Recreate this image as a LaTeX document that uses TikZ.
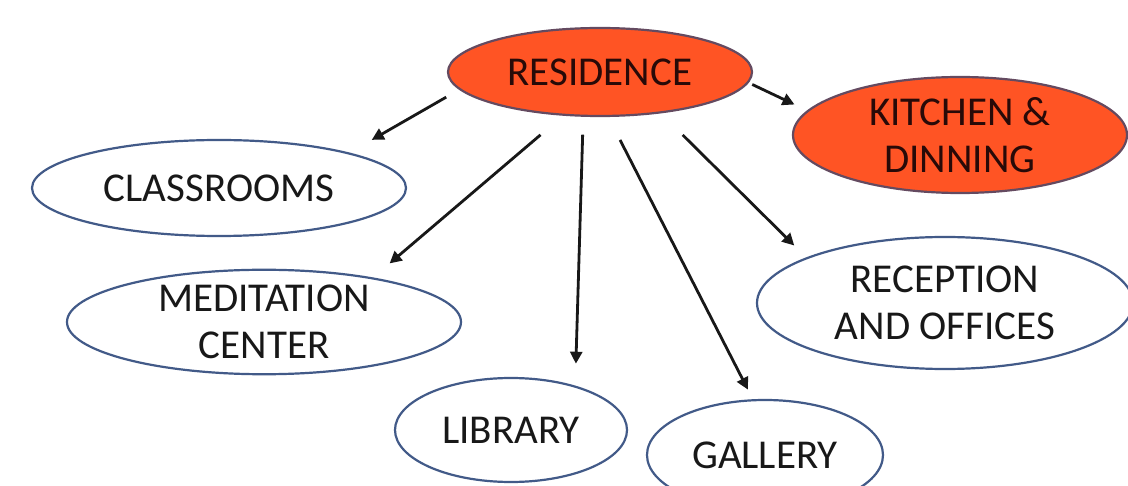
\documentclass[tikz,border=0pt]{standalone}
\usepackage{fontspec}
\setmainfont{Carlito}
\usetikzlibrary{shapes.geometric,arrows.meta}
\definecolor{roomedge}{RGB}{66,90,136}
\definecolor{hotfill}{RGB}{255,84,36}
\definecolor{hotedge}{RGB}{100,74,96}
\definecolor{ink}{RGB}{24,24,24}
\definecolor{hotink}{RGB}{40,10,8}
\begin{document}
\begin{tikzpicture}[x=1pt,y=-1pt,
  room/.style={ellipse, draw=roomedge, line width=2.2pt, fill=white,
    inner sep=0pt, outer sep=0pt, align=center, text=ink,
    font=\fontsize{41}{47}\selectfont},
  hub/.style={room, draw=hotedge, fill=hotfill, text=hotink},
  link/.style={-{Triangle[length=12pt,width=12pt]}, line width=2.8pt, draw=ink}]

% page frame
\useasboundingbox (0,0) rectangle (1128,486);
\fill[white] (0,0) rectangle (1128,486);
\clip (0,0) rectangle (1128,486);

% spaces
\node[hub, minimum width=304, minimum height=88] (res) at (600,72) {RESIDENCE};
\node[hub, minimum width=334, minimum height=116] (kit) at (960,135) {KITCHEN \&\\DINNING};
\node[room, minimum width=374, minimum height=96] (cls) at (219,188) {CLASSROOMS};
\node[room, minimum width=394, minimum height=100] (med) at (264,322) {MEDITATION\\CENTER};
\node[room, minimum width=376, minimum height=132] (rec) at (945,303) {RECEPTION\\AND OFFICES};
\node[room, minimum width=232, minimum height=104] (lib) at (511,430) {LIBRARY};
\node[room, minimum width=236, minimum height=110] (gal) at (765,455) {GALLERY};

% links from the residence
\draw[link, shorten <=16pt, shorten >=27pt] (res.187) -- (cls.15);
\draw[link, shorten <=31pt, shorten >=23pt] (res.230) -- (med.22);
\draw[link, shorten <=19pt, shorten >=23pt] (res.249) -- (lib.34);
\draw[link, shorten <=27pt, shorten >=12pt] (res.280) -- (gal.102);
\draw[link, shorten <=32pt, shorten >=18pt] (res.326) -- (rec.162);
\draw[link, shorten <=5pt, shorten >=15pt] (res.356) -- (kit.171);
\end{tikzpicture}
\end{document}
